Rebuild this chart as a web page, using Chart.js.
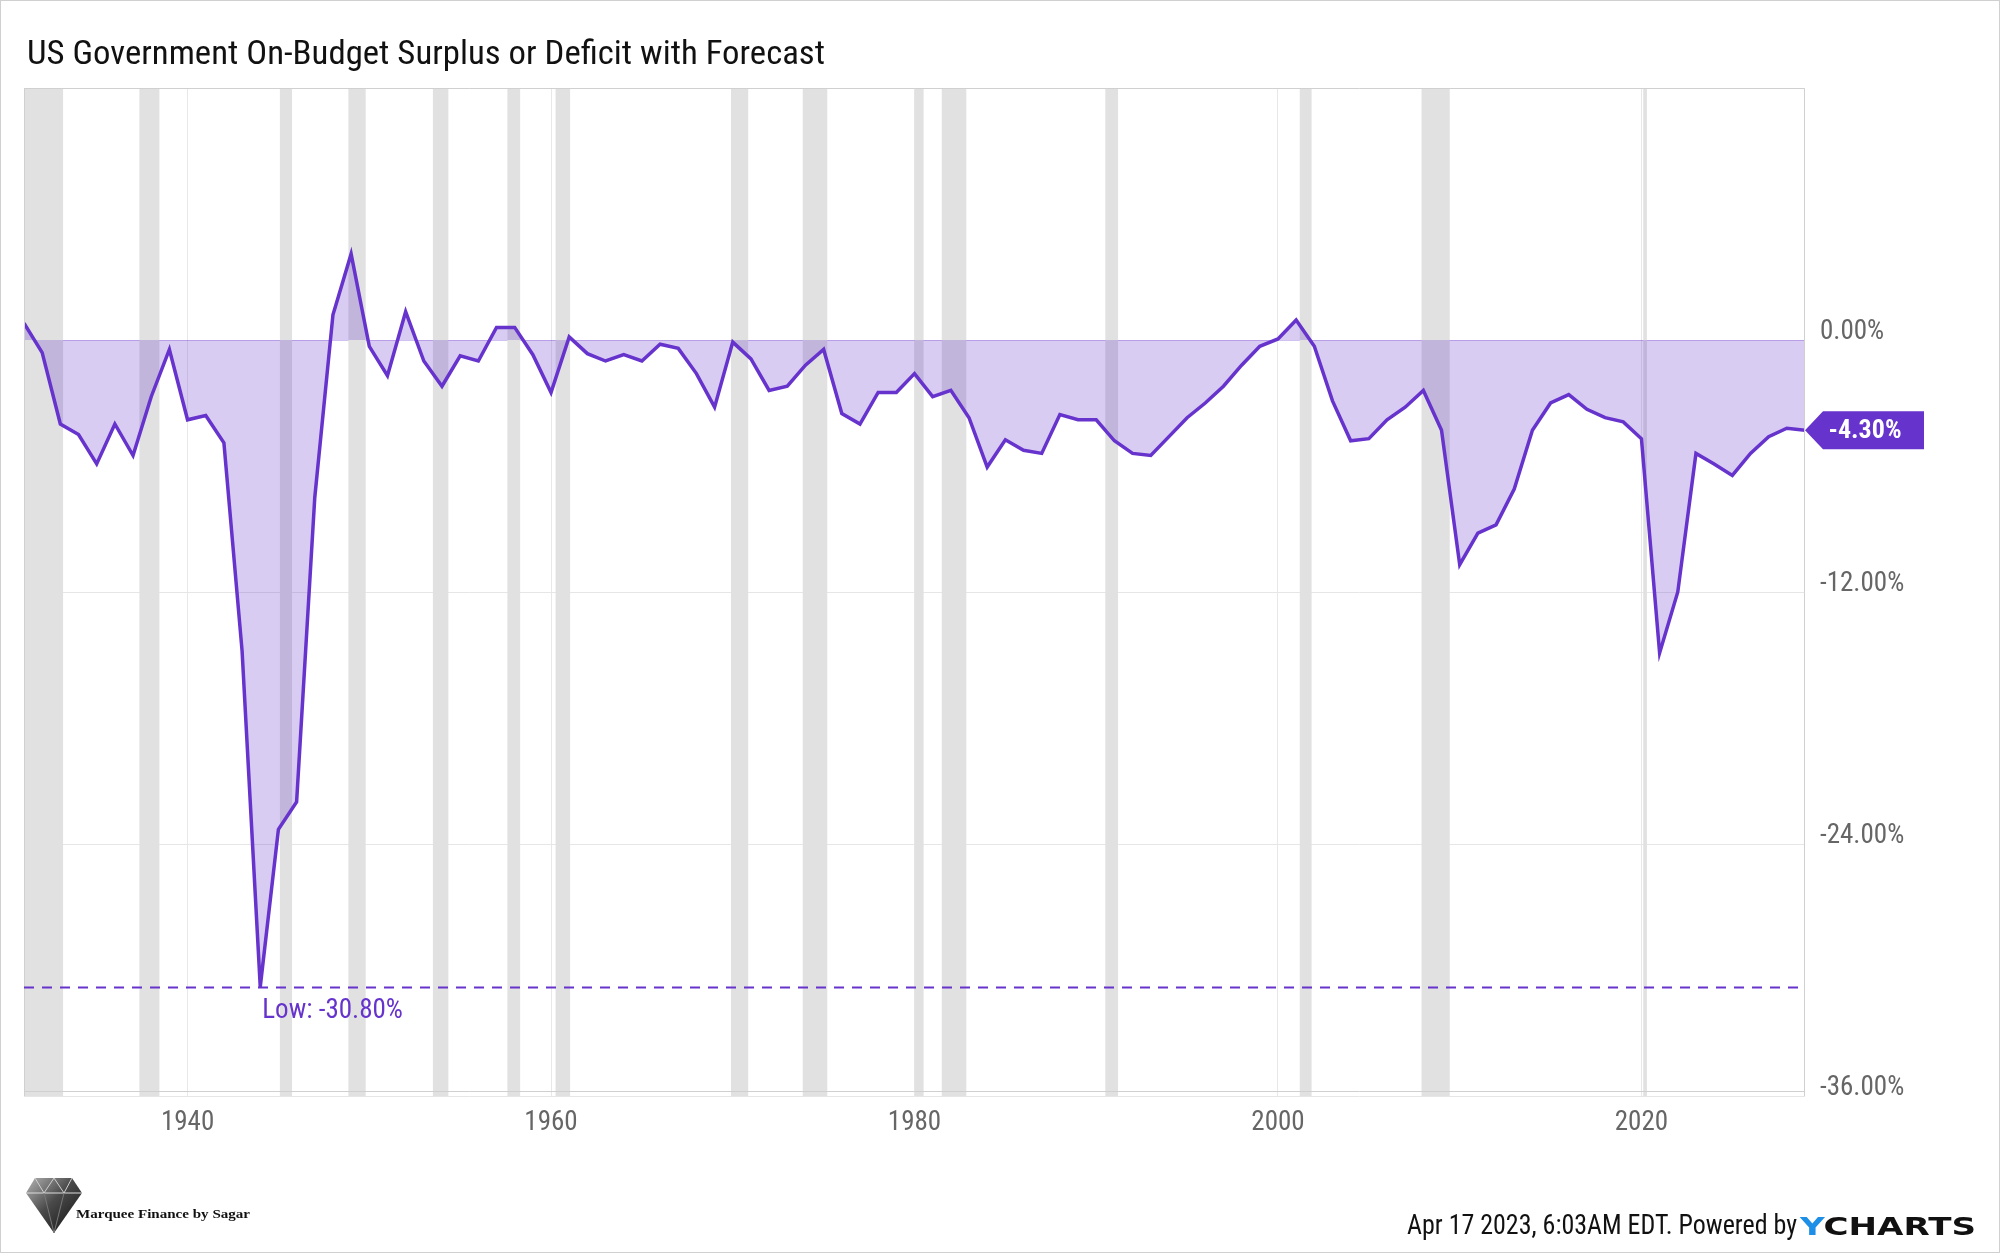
<!DOCTYPE html>
<html>
<head>
<meta charset="utf-8">
<title>US Government On-Budget Surplus or Deficit with Forecast</title>
<script src="https://cdn.jsdelivr.net/npm/chart.js@4.4.1/dist/chart.umd.min.js"></script>
<style>
  html, body { margin: 0; padding: 0; background: #fff; }
  #wrap { position: relative; width: 2000px; height: 1253px; overflow: hidden; }
  #myChart { position: absolute; left: 0; top: 0; }
  #overlay { position: absolute; left: 0; top: 0; pointer-events: none; }
  #frame { position: absolute; left: 0; top: 0; width: 2000px; height: 1253px; box-sizing: border-box; border: 1px solid #d0d0d0; pointer-events: none; }
</style>
</head>
<body>
<div id="wrap">
  <canvas id="myChart" width="2000" height="1253"></canvas>
  <svg id="overlay" width="2000" height="1253" xmlns="http://www.w3.org/2000/svg">
    <defs>
      <linearGradient id="gem" x1="0" y1="0" x2="1" y2="1">
        <stop offset="0" stop-color="#b5b5b5"/>
        <stop offset="0.45" stop-color="#4a4a4a"/>
        <stop offset="1" stop-color="#0d0d0d"/>
      </linearGradient>
    </defs>
    <text x="27" y="64" font-family="'Roboto Condensed', Roboto, sans-serif" font-size="34" fill="#111"
          textLength="798" lengthAdjust="spacingAndGlyphs">US Government On-Budget Surplus or Deficit with Forecast</text>

    <!-- logo -->
    <polygon points="35,1178 72,1178 82,1193 54,1233 26,1193" fill="url(#gem)"/>
    <polyline points="26,1193 82,1193" stroke="#dcdcdc" stroke-width="1" fill="none"/>
    <polyline points="35,1178 44,1193 54,1178 64,1193 72,1178" stroke="#cfcfcf" stroke-width="1" fill="none"/>
    <polyline points="44,1193 54,1233 64,1193" stroke="#777" stroke-width="1" fill="none"/>
    <text x="76" y="1218" font-family="'Liberation Serif', 'DejaVu Serif', serif" font-weight="bold" font-size="13.5" fill="#111"
          textLength="174" lengthAdjust="spacingAndGlyphs">Marquee Finance by Sagar</text>

    <!-- footer -->
    <text x="1407" y="1234" font-family="'Roboto Condensed', Roboto, sans-serif" font-size="27" fill="#111"
          textLength="390" lengthAdjust="spacingAndGlyphs">Apr 17 2023, 6:03AM EDT. Powered by</text>
    <text x="1800" y="1235" font-family="'DejaVu Sans', sans-serif" font-weight="bold" font-size="24.5"
          textLength="176" lengthAdjust="spacingAndGlyphs"><tspan fill="#1e8fe6">Y</tspan><tspan fill="#111">CHARTS</tspan></text>
  </svg>
  <div id="frame"></div>
</div>

<script>
// x positions (year-end dates of each fiscal year) and % of GDP
const years = [
  1931, 1932, 1933, 1934, 1935, 1936, 1937, 1938, 1939, 1940,
  1941, 1942, 1943, 1944, 1945, 1946, 1947, 1948, 1949, 1950,
  1951, 1952, 1953, 1954, 1955, 1956, 1957, 1958, 1959, 1960,
  1961, 1962, 1963, 1964, 1965, 1966, 1967, 1968, 1969, 1970,
  1971, 1972, 1973, 1974, 1975, 1976, 1977, 1978, 1979, 1980,
  1981, 1982, 1983, 1984, 1985, 1986, 1987, 1988, 1989, 1990,
  1991, 1992, 1993, 1994, 1995, 1996, 1997, 1998, 1999, 2000,
  2001, 2002, 2003, 2004, 2005, 2006, 2007, 2008, 2009, 2010,
  2011, 2012, 2013, 2014, 2015, 2016, 2017, 2018, 2019, 2020,
  2021, 2022, 2023, 2024, 2025, 2026, 2027, 2028, 2029
];
const surplusPct = [
  0.8, -0.6, -4.0, -4.5, -5.9, -4.0, -5.5, -2.7, -0.45, -3.8,
  -3.6, -4.9, -14.8, -30.8, -23.3, -22.0, -7.5, 1.2, 4.1, -0.3,
  -1.7, 1.35, -1.0, -2.2, -0.75, -1.0, 0.6, 0.6, -0.7, -2.5,
  0.15, -0.65, -1.0, -0.7, -1.0, -0.2, -0.4, -1.6, -3.2, -0.1,
  -0.9, -2.4, -2.2, -1.2, -0.45, -3.5, -4.0, -2.5, -2.5, -1.6,
  -2.7, -2.4, -3.7, -6.05, -4.75, -5.25, -5.4, -3.55, -3.8, -3.8,
  -4.8, -5.4, -5.5, -4.6, -3.7, -3.0, -2.2, -1.2, -0.3, 0.05,
  0.95, -0.3, -2.9, -4.8, -4.7, -3.8, -3.2, -2.4, -4.3, -10.7,
  -9.2, -8.8, -7.1, -4.3, -3.0, -2.6, -3.3, -3.7, -3.9, -4.7,
  -14.9, -12.0, -5.4, -5.9, -6.45, -5.4, -4.6, -4.2, -4.3
];

// NBER recessions (decimal years)
const recessionStart = [1929.6, 1937.35, 1945.08, 1948.85, 1953.5, 1957.6, 1960.25, 1969.9, 1973.85, 1980.0, 1981.5, 1990.5, 2001.2, 2007.9, 2020.1];
const recessionEnd   = [1933.15, 1938.45, 1945.75, 1949.8, 1954.35, 1958.3, 1961.05, 1970.85, 1975.2, 1980.5, 1982.85, 1991.2, 2001.85, 2009.45, 2020.3];

const xTicks = [1940, 1960, 1980, 2000, 2020];
const yTicks = [12, 0, -12, -24, -36];

const PURPLE = '#6633cc';
const FONT = "'Roboto Condensed', Roboto, sans-serif";

const lowValue = Math.min(...surplusPct);
const lowYear = years[surplusPct.indexOf(lowValue)];
const lastValue = surplusPct[surplusPct.length - 1];

const recessionBands = {
  id: 'recessionBands',
  beforeDatasetsDraw(chart) {
    const {ctx, chartArea, scales} = chart;
    ctx.save();
    ctx.beginPath();
    ctx.rect(chartArea.left, chartArea.top, chartArea.right - chartArea.left, chartArea.bottom - chartArea.top);
    ctx.clip();
    ctx.fillStyle = '#e1e1e1';
    for (let i = 0; i < recessionStart.length; i++) {
      const x1 = scales.x.getPixelForValue(recessionStart[i]);
      const x2 = scales.x.getPixelForValue(recessionEnd[i]);
      ctx.fillRect(x1, chartArea.top, x2 - x1, chartArea.bottom - chartArea.top);
    }
    ctx.restore();
  }
};

const annotations = {
  id: 'annotations',
  afterDatasetsDraw(chart) {
    const {ctx, chartArea, scales} = chart;
    // plot frame
    ctx.save();
    ctx.strokeStyle = '#d0d0d0';
    ctx.lineWidth = 1;
    ctx.beginPath();
    ctx.moveTo(chartArea.left + 0.5, chartArea.top + 0.5);
    ctx.lineTo(chartArea.right - 0.5, chartArea.top + 0.5);
    ctx.lineTo(chartArea.right - 0.5, chartArea.bottom);
    ctx.moveTo(chartArea.left + 0.5, chartArea.top);
    ctx.lineTo(chartArea.left + 0.5, chartArea.bottom);
    ctx.moveTo(chartArea.left, chartArea.bottom - 4.5);
    ctx.lineTo(chartArea.right, chartArea.bottom - 4.5);
    ctx.stroke();

    // low line
    const ly = Math.round(scales.y.getPixelForValue(lowValue)) + 0.5;
    ctx.strokeStyle = PURPLE;
    ctx.lineWidth = 2;
    ctx.setLineDash([10, 8]);
    ctx.beginPath();
    ctx.moveTo(chartArea.left, ly);
    ctx.lineTo(chartArea.right, ly);
    ctx.stroke();
    ctx.setLineDash([]);
    ctx.fillStyle = PURPLE;
    ctx.font = '27px ' + FONT;
    ctx.textAlign = 'left';
    ctx.textBaseline = 'middle';
    ctx.fillText('Low: ' + lowValue.toFixed(2) + '%', scales.x.getPixelForValue(lowYear) + 2, ly + 24);

    // last value tag
    const ty = scales.y.getPixelForValue(lastValue);
    const tx = chartArea.right;
    ctx.beginPath();
    ctx.moveTo(tx, ty);
    ctx.lineTo(tx + 18, ty - 19);
    ctx.lineTo(tx + 119, ty - 19);
    ctx.lineTo(tx + 119, ty + 19);
    ctx.lineTo(tx + 18, ty + 19);
    ctx.closePath();
    ctx.fillStyle = PURPLE;
    ctx.fill();
    ctx.fillStyle = '#fff';
    ctx.font = 'bold 26px ' + FONT;
    ctx.textAlign = 'center';
    ctx.fillText(lastValue.toFixed(2) + '%', tx + 60, ty + 1);
    ctx.restore();
  }
};

const data = {
  datasets: [{
    label: 'On-Budget Surplus or Deficit',
    data: years.map((y, i) => ({x: y, y: surplusPct[i]})),
    borderColor: PURPLE,
    backgroundColor: 'rgba(102, 51, 204, 0.25)',
    borderWidth: 3.5,
    fill: 'origin',
    pointRadius: 0,
    tension: 0
  }]
};

const config = {
  type: 'line',
  data: data,
  options: {
    responsive: false,
    animation: false,
    devicePixelRatio: 1,
    layout: {
      padding: {left: 24, top: 88, right: 0, bottom: 97}
    },
    plugins: {
      legend: {display: false},
      tooltip: {enabled: false}
    },
    scales: {
      x: {
        type: 'linear',
        min: 1931,
        max: 2029,
        afterBuildTicks: scale => { scale.ticks = xTicks.map(v => ({value: v})); },
        afterFit: scale => { scale.height = 60; },
        ticks: {
          callback: v => String(v),
          color: '#666',
          font: {family: FONT, size: 27},
          padding: 11,
          maxRotation: 0,
          autoSkip: false
        },
        grid: {color: '#e8e8e8', drawTicks: false},
        border: {display: false}
      },
      y: {
        position: 'right',
        min: -36,
        max: 12,
        afterBuildTicks: scale => { scale.ticks = yTicks.map(v => ({value: v})); },
        afterFit: scale => { scale.width = 195; },
        ticks: {
          callback: v => v === 12 ? '' : v.toFixed(2) + '%',
          color: '#666',
          font: {family: FONT, size: 27},
          padding: 15,
          labelOffset: -8
        },
        grid: {
          color: ctx => ctx.tick && ctx.tick.value === 0 ? 'rgba(102, 51, 204, 0.3)' : '#e6e6e6',
          drawTicks: false
        },
        border: {display: false}
      }
    }
  },
  plugins: [recessionBands, annotations]
};

const ctx = document.getElementById('myChart').getContext('2d');
const chart = new Chart(ctx, config);
</script>
</body>
</html>
